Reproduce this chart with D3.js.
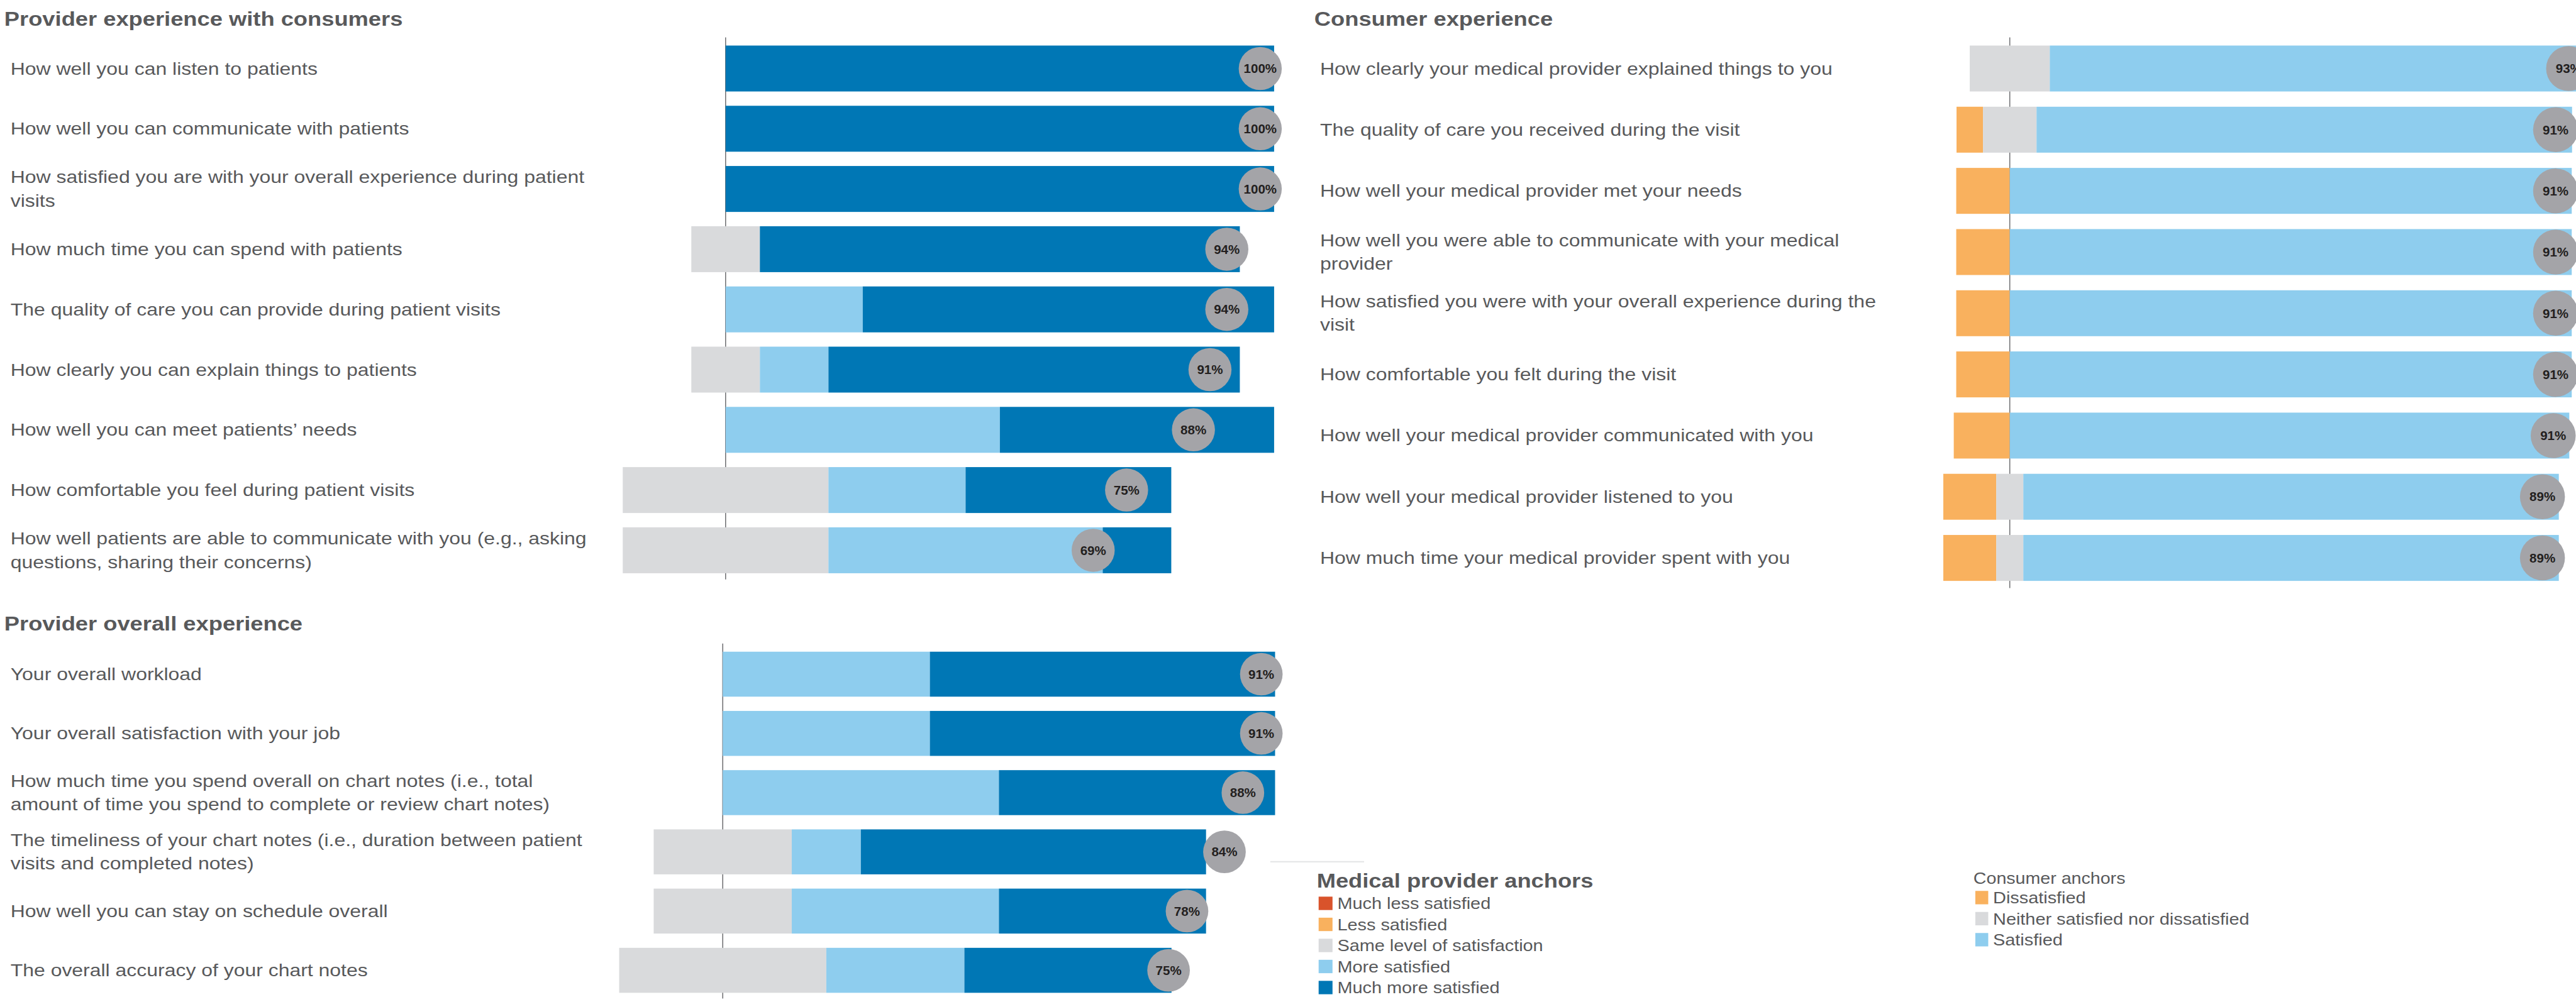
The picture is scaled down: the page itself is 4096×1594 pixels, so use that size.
<!DOCTYPE html>
<html>
<head>
<meta charset="utf-8">
<script src="https://cdn.jsdelivr.net/npm/d3@7"></script>
<style>
  html, body { margin: 0; padding: 0; background: #fff; overflow: hidden; }
  svg { display: block; }
  text { font-family: "Liberation Sans", Arial, Helvetica, sans-serif; }
</style>
</head>
<body>
<div id="chart"></div>
<script>
// ---- data ----
var providerAnchors = ["Much less satisfied", "Less satisfied", "Same level of satisfaction", "More satisfied", "Much more satisfied"];
var consumerAnchors = ["Dissatisfied", "Neither satisfied nor dissatisfied", "Satisfied"];

// provider experience with consumers (percent of respondents)
var pcLabels = [
  "How well you can listen to patients",
  "How well you can communicate with patients",
  "How satisfied you are with your overall experience during patient\nvisits",
  "How much time you can spend with patients",
  "The quality of care you can provide during patient visits",
  "How clearly you can explain things to patients",
  "How well you can meet patients\u2019 needs",
  "How comfortable you feel during patient visits",
  "How well patients are able to communicate with you (e.g., asking\nquestions, sharing their concerns)"
];
var pcMuchLess = [0, 0, 0, 0, 0, 0, 0, 0, 0];
var pcLess     = [0, 0, 0, 0, 0, 0, 0, 0, 0];
var pcSame     = [0, 0, 0, 12.5, 0, 12.5, 0, 37.5, 37.5];
var pcMore     = [0, 0, 0, 0, 25, 12.5, 50, 25, 50];
var pcMuchMore = [100, 100, 100, 87.5, 75, 75, 50, 37.5, 12.5];
var pcScore    = [100, 100, 100, 93.75, 93.75, 90.6, 87.5, 75, 68.75];

// provider overall experience
var poLabels = [
  "Your overall workload",
  "Your overall satisfaction with your job",
  "How much time you spend overall on chart notes (i.e., total\namount of time you spend to complete or review chart notes)",
  "The timeliness of your chart notes (i.e., duration between patient\nvisits and completed notes)",
  "How well you can stay on schedule overall",
  "The overall accuracy of your chart notes"
];
var poMuchLess = [0, 0, 0, 0, 0, 0];
var poLess     = [0, 0, 0, 0, 0, 0];
var poSame     = [0, 0, 0, 25, 25, 37.5];
var poMore     = [37.5, 37.5, 50, 12.5, 37.5, 25];
var poMuchMore = [62.5, 62.5, 50, 62.5, 37.5, 37.5];
var poScore    = [90.6, 90.6, 87.5, 84.4, 78.1, 75];

// consumer experience
var ceLabels = [
  "How clearly your medical provider explained things to you",
  "The quality of care you received during the visit",
  "How well your medical provider met your needs",
  "How well you were able to communicate with your medical\nprovider",
  "How satisfied you were with your overall experience during the\nvisit",
  "How comfortable you felt during the visit",
  "How well your medical provider communicated with you",
  "How well your medical provider listened to you",
  "How much time your medical provider spent with you"
];
var ceDissatisfied = [0, 4.3, 8.7, 8.7, 8.7, 8.7, 9.1, 8.6, 8.6];
var ceNeither      = [13.0, 8.7, 0, 0, 0, 0, 0, 4.4, 4.4];
var ceSatisfied    = [87.0, 87.0, 91.3, 91.3, 91.3, 91.3, 90.9, 87.0, 87.0];
var ceScore        = [93.48, 91.3, 91.3, 91.3, 91.3, 91.3, 90.9, 89.1, 89.1];

// ---- setup ----
var W = 5382, H = 2094;
var S = 1.15;            // horizontal stretch of the body text
var textColor = "#58595b";
var providerColors = ["#d9532b", "#f9b15e", "#d9dadc", "#8ecdee", "#0077b5"];
var consumerColors = ["#f9b15e", "#d9dadc", "#8ecdee"];

var svg = d3.select("#chart").append("svg")
    .attr("width", 4096)
    .attr("height", 1594)
    .attr("viewBox", "0 0 " + W + " " + H);

function addText(parent, x, y, lines, size, weight, lineH) {
  var t = parent.append("text")
      .attr("transform", "translate(" + x + "," + y + ") scale(" + S + ",1)")
      .style("font-size", size + "px")
      .style("font-weight", weight)
      .attr("fill", textColor);
  t.selectAll("tspan").data(lines)
    .enter().append("tspan")
      .attr("x", 0)
      .attr("y", function (d, i) { return i * lineH; })
      .text(function (d) { return d; });
  return t;
}

// draw one diverging stacked bar panel
function drawPanel(cfg) {
  var n = cfg.labels.length;
  var x = d3.scaleLinear().domain([0, 100]).range([cfg.axisX, cfg.axisX + cfg.width]);
  var y = d3.scaleBand().domain(d3.range(n)).range(cfg.yRange).paddingInner(cfg.pad);
  var dot = d3.scaleLinear().domain([0, 100]).range(cfg.dotRange);

  var g = svg.append("g");

  addText(g, cfg.titleX, cfg.titleY, [cfg.title], 41.5, "bold", 0);

  // axis line
  g.append("line")
      .attr("x1", cfg.axisX).attr("x2", cfg.axisX)
      .attr("y1", cfg.axisY[0]).attr("y2", cfg.axisY[1])
      .attr("stroke", "#6d6e71")
      .attr("stroke-width", 2);

  // segments
  var segs = [];
  d3.range(n).forEach(function (i) {
    var start = -cfg.series[cfg.neutral][i] / 2;
    for (var k = 0; k < cfg.neutral; k++) start -= cfg.series[k][i];
    cfg.series.forEach(function (s, k) {
      segs.push({row: i, x0: start, x1: start + s[i], c: cfg.colors[k]});
      start += s[i];
    });
  });

  g.selectAll("rect.seg").data(segs.filter(function (d) { return d.x1 > d.x0; }))
    .enter().append("rect")
      .attr("class", "seg")
      .attr("x", function (d) { return x(d.x0); })
      .attr("width", function (d) { return x(d.x1) - x(d.x0); })
      .attr("y", function (d) { return y(d.row); })
      .attr("height", y.bandwidth())
      .attr("fill", function (d) { return d.c; });

  // question labels
  cfg.labels.forEach(function (l, i) {
    var lines = l.split("\n");
    var cy = y(i) + y.bandwidth() / 2;
    addText(g, cfg.labelX, cy + 12.5 - (lines.length - 1) * 49 / 2, lines, 36.5, "normal", 49);
  });

  // score dots
  var dots = g.selectAll("g.dot").data(cfg.score)
    .enter().append("g")
      .attr("class", "dot")
      .attr("transform", function (d, i) {
        return "translate(" + dot(d) + "," + (y(i) + y.bandwidth() / 2) + ")";
      });
  dots.append("circle")
      .attr("r", cfg.r)
      .attr("fill", "#a4a4a8");
  dots.append("text")
      .attr("text-anchor", "middle")
      .attr("y", 9.5)
      .style("font-size", "27px")
      .style("font-weight", "bold")
      .attr("fill", "#231f20")
      .text(function (d) { return Math.round(d) + "%"; });
}

drawPanel({
  title: "Provider experience with consumers", titleX: 9, titleY: 54,
  labels: pcLabels, labelX: 22,
  series: [pcMuchLess, pcLess, pcSame, pcMore, pcMuchMore], neutral: 2, colors: providerColors,
  score: pcScore,
  axisX: 1516, width: 1146, axisY: [78, 1211],
  yRange: [95, 1198], pad: 0.2375,
  dotRange: [1516, 2633], r: 45
});

drawPanel({
  title: "Provider overall experience", titleX: 9, titleY: 1318,
  labels: poLabels, labelX: 22,
  series: [poMuchLess, poLess, poSame, poMore, poMuchMore], neutral: 2, colors: providerColors,
  score: poScore,
  axisX: 1510, width: 1154, axisY: [1345, 2087],
  yRange: [1362, 2075], pad: 0.2407,
  dotRange: [1510, 2752], r: 44.5
});

drawPanel({
  title: "Consumer experience", titleX: 2746, titleY: 54,
  labels: ceLabels, labelX: 2758,
  series: [ceDissatisfied, ceNeither, ceSatisfied], neutral: 1, colors: consumerColors,
  score: ceScore,
  axisX: 4199, width: 1286, axisY: [78, 1229],
  yRange: [95, 1214], pad: 0.2494,
  dotRange: [4199, 5448], r: 47
});

// ---- legends ----
svg.append("line")
    .attr("x1", 2654).attr("x2", 2850)
    .attr("y1", 1801).attr("y2", 1801)
    .attr("stroke", "#e6e7e8")
    .attr("stroke-width", 3);

var leg1 = svg.append("g");
addText(leg1, 2751, 1855, ["Medical provider anchors"], 41.5, "bold", 0);
var items1 = leg1.selectAll("g.item").data(providerAnchors)
  .enter().append("g")
    .attr("class", "item")
    .attr("transform", function (d, i) { return "translate(2755," + (1874 + i * 44) + ")"; });
items1.append("rect")
    .attr("width", 29).attr("height", 28)
    .attr("fill", function (d, i) { return providerColors[i]; });
items1.each(function (d) { addText(d3.select(this), 39, 26, [d], 33, "normal", 0); });

var leg2 = svg.append("g");
addText(leg2, 4123, 1847, ["Consumer anchors"], 32.7, "normal", 0);
var items2 = leg2.selectAll("g.item").data(consumerAnchors)
  .enter().append("g")
    .attr("class", "item")
    .attr("transform", function (d, i) { return "translate(4127," + (1862 + i * 44) + ")"; });
items2.append("rect")
    .attr("width", 27).attr("height", 28)
    .attr("fill", function (d, i) { return consumerColors[i]; });
items2.each(function (d) { addText(d3.select(this), 37, 26, [d], 33, "normal", 0); });
</script>
</body>
</html>
